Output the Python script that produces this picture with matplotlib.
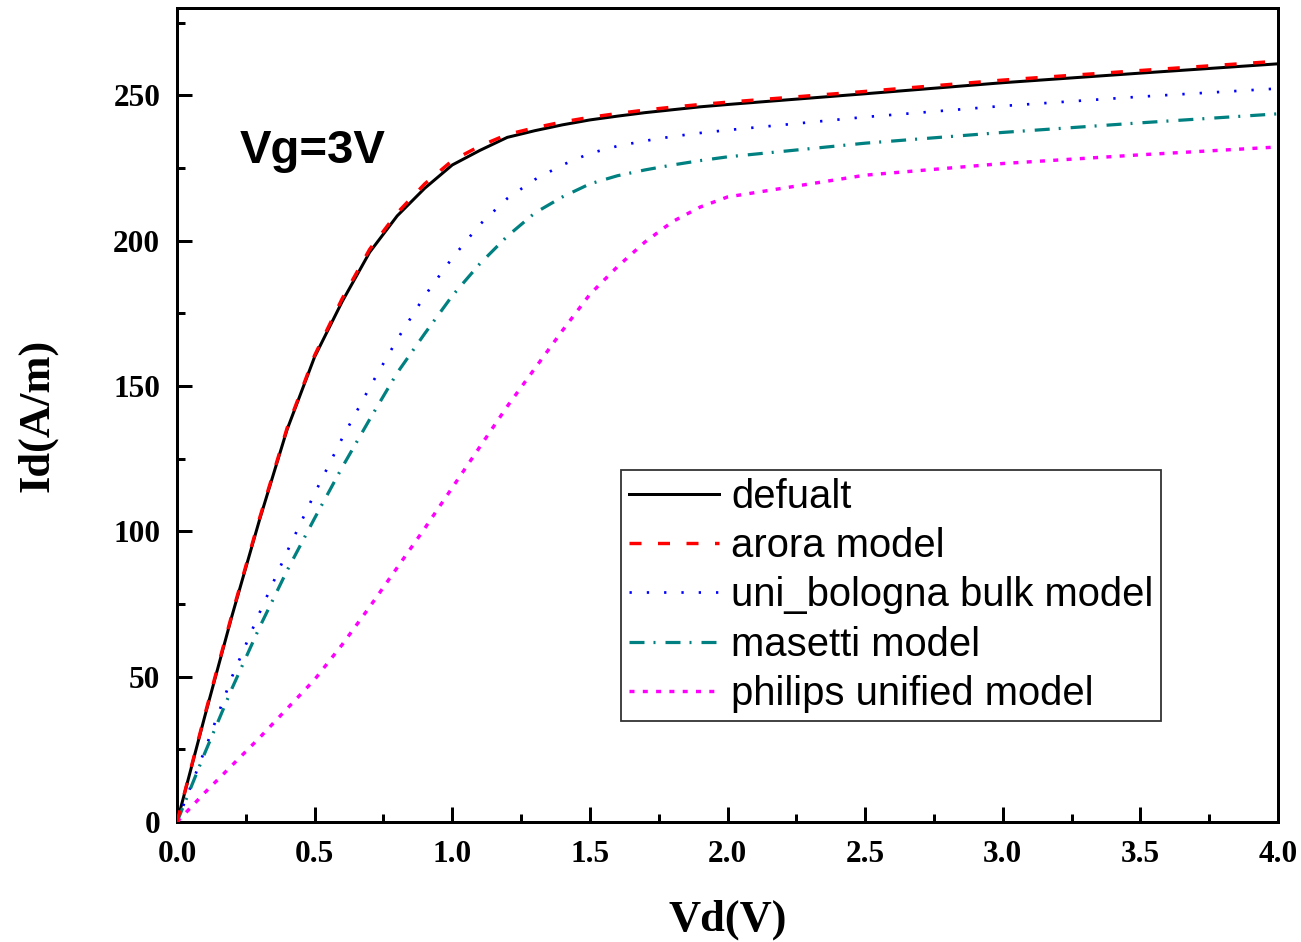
import matplotlib
matplotlib.use("Agg")
import matplotlib.pyplot as plt
from matplotlib.ticker import MultipleLocator, FormatStrFormatter

# ---- data ----
vd = [0.0, 0.1, 0.2, 0.3, 0.4, 0.5, 0.6, 0.7, 0.8, 0.9, 1.0, 1.1, 1.2, 1.3,
      1.4, 1.5, 1.6, 1.7, 1.8, 1.9, 2.0, 2.5, 3.0, 3.5, 4.0]
id_default = [0, 36, 71, 104, 135, 160, 179, 196, 208.5, 218, 226, 231, 235.5,
              237.8, 239.8, 241.5, 242.8, 244, 245, 246, 246.8, 250.5, 254.3,
              257.6, 260.8]
id_arora = [0, 36.5, 71.5, 104.5, 135.5, 160.5, 180, 197, 209.5, 219.5, 227.5,
            232.5, 236.5, 238.8, 240.8, 242.4, 243.7, 244.9, 245.9, 246.8,
            247.6, 251.3, 255.2, 258.5, 261.7]
id_bologna = [0, 24.5, 50, 72, 93, 113, 132, 149.5, 166, 181, 194, 205.5,
              214.5, 221, 226, 230, 232.5, 234.3, 235.8, 237, 238, 242.5,
              246.3, 249.5, 252.3]
id_masetti = [0, 23.5, 46, 67, 86.5, 104.5, 122, 138.5, 154.5, 168, 181, 192,
              201.5, 209.5, 215, 219.5, 222.3, 224.3, 226, 227.5, 228.8, 233.5,
              237.2, 240.5, 243.6]
id_philips = [0, 10, 19.5, 29, 39, 49, 61, 74, 87.5, 101, 115, 129, 143, 156,
              169, 181.5, 191, 199.5, 206.5, 211.5, 215, 222.5, 226.5, 229.5,
              232.2]
labels = ["defualt", "arora model", "uni_bologna bulk model", "masetti model",
          "philips unified model"]

W, H, DPI = 1301, 942, 100
fig = plt.figure(figsize=(W / DPI, H / DPI), dpi=DPI)
ax = fig.add_axes([177 / W, 1 - 822 / H, (1278 - 177) / W, (822 - 8) / H])

px = 72.0 / DPI  # points per pixel

def pat(lw_px, seq_px):
    return (0, [s / lw_px for s in seq_px])

lw_b = 3.0
ax.plot(vd, id_default, color="black", lw=lw_b * px, label=labels[0], zorder=3)
lw_r = 3.4
ax.plot(vd, id_arora, color="#ff0000", lw=lw_r * px,
        linestyle=pat(lw_r, [12, 16.5]), label=labels[1], zorder=4)
lw_bl = 2.7
ax.plot(vd, id_bologna, color="#0000ff", lw=lw_bl * px,
        linestyle=pat(lw_bl, [2.3, 15]), label=labels[2], zorder=3)
lw_t = 3.2
ax.plot(vd, id_masetti, color="#008080", lw=lw_t * px,
        linestyle=pat(lw_t, [15, 9, 2, 10]), label=labels[3], zorder=3)
lw_m = 3.4
ax.plot(vd, id_philips, color="#ff00ff", lw=lw_m * px,
        linestyle=pat(lw_m, [5, 8.3]), label=labels[4], zorder=3)

ax.set_xlim(0, 4.0)
ax.set_ylim(0, 280)
ax.xaxis.set_major_locator(MultipleLocator(0.5))
ax.xaxis.set_minor_locator(MultipleLocator(0.25))
ax.yaxis.set_major_locator(MultipleLocator(50))
ax.yaxis.set_minor_locator(MultipleLocator(25))
ax.xaxis.set_major_formatter(FormatStrFormatter("%.1f"))
ax.yaxis.set_major_formatter(FormatStrFormatter("%d"))

for s in ax.spines.values():
    s.set_linewidth(3.0 * px)
ax.tick_params(which="both", direction="in", top=False, right=False,
               width=3.0 * px)
ax.tick_params(which="major", length=15 * px)
ax.tick_params(axis="x", which="major", pad=13)
ax.tick_params(axis="y", which="major", pad=12)
ax.tick_params(which="minor", length=8 * px)
for lab in ax.get_xticklabels() + ax.get_yticklabels():
    lab.set_fontfamily("Liberation Serif")
    lab.set_fontweight("bold")
    lab.set_fontsize(22.5)

ax.set_xlabel("Vd(V)", fontfamily="Liberation Serif", fontweight="bold",
              fontsize=32, labelpad=22)
ax.set_ylabel("Id(A/m)", fontfamily="Liberation Serif", fontweight="bold",
              fontsize=32, labelpad=40)

ax.text((240 - 177) / (1278 - 177), (822 - 163) / (822 - 8), "Vg=3V",
        transform=ax.transAxes,
        fontfamily="Liberation Sans", fontweight="bold", fontsize=34,
        va="baseline", ha="left")

leg = ax.legend(loc="upper left", bbox_to_anchor=((621 - 177) / (1278 - 177),
                (822 - 470) / (822 - 8)),
                prop={"family": "Liberation Sans", "size": 28.8},
                frameon=True, fancybox=False, edgecolor="black",
                handlelength=2.25, handletextpad=0.3, borderaxespad=0,
                labelspacing=0.28, borderpad=0.2)
leg.get_frame().set_linewidth(1.3)

fig.savefig("out.png", dpi=DPI, facecolor="white")
